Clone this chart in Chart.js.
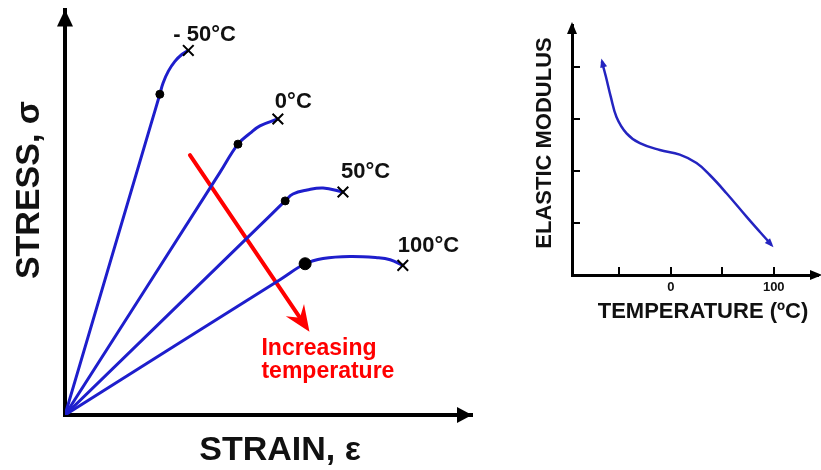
<!DOCTYPE html>
<html>
<head>
<meta charset="utf-8">
<script src="https://cdn.jsdelivr.net/npm/chart.js@4.4.1/dist/chart.umd.min.js"></script>
<style>
  html, body { margin: 0; padding: 0; background: #fff; }
  #wrap { position: relative; width: 821px; height: 470px; overflow: hidden; }
  #stress { position: absolute; left: 0; top: 0; }
  #modulus { position: absolute; left: 500px; top: 0; }
</style>
</head>
<body>
<div id="wrap">
  <canvas id="stress" width="500" height="470"></canvas>
  <canvas id="modulus" width="321" height="470"></canvas>
</div>
<script>
// stress-strain curves (strain, stress in arbitrary units), one per temperature
const tempLabels = ['- 50°C', '0°C', '50°C', '100°C'];
const strainM50 = [0, 2.10, 2.33, 2.41, 2.54, 2.70, 2.87, 3.03];
const stressM50 = [0, 7.13, 7.91, 8.19, 8.48, 8.72, 8.89, 8.99];
const strain0 = [0, 3.80, 4.25, 4.55, 4.79, 5.23];
const stress0 = [0, 5.97, 6.68, 6.95, 7.13, 7.30];
const strain50 = [0, 4.90, 5.41, 5.60, 5.95, 6.34, 6.83];
const stress50 = [0, 4.78, 5.28, 5.45, 5.55, 5.60, 5.50];
const strain100 = [0, 5.30, 5.90, 6.34, 7.00, 7.67, 7.99, 8.30];
const stress100 = [0, 3.35, 3.73, 3.86, 3.91, 3.88, 3.83, 3.69];
const yieldIndex = [2, 2, 2, 2];

// "increasing temperature" arrow
const arrowStrain = [3.07, 5.80];
const arrowStress = [6.41, 2.36];

// elastic modulus vs temperature
const tempC = [-67.0, -63.1, -58.3, -52.7, -43.0, -30.1, -10.7, 8.7, 25.0, 37.9, 54.1, 73.5, 86.4, 97.8];
const modulus = [4.10, 3.81, 3.42, 3.03, 2.72, 2.53, 2.40, 2.31, 2.15, 1.92, 1.57, 1.12, 0.83, 0.58];
const tempTicks = [-50, 0, 50, 100];
const tempTickLabels = { 0: '0', 100: '100' };
const modulusTicks = [1, 2, 3, 4];

const FONT = 'Arial, "Liberation Sans", sans-serif';
const BLUE = '#1e1ecc';
const RED = '#ff0000';

function zip(xs, ys) { return xs.map((x, i) => ({ x: x, y: ys[i] })); }

function arrowHead(ctx, x, y, dx, dy, len, half, notch, color) {
  const m = Math.hypot(dx, dy);
  const ux = dx / m, uy = dy / m;
  const px = -uy, py = ux;
  ctx.save();
  ctx.fillStyle = color;
  ctx.beginPath();
  ctx.moveTo(x, y);
  ctx.lineTo(x - ux * len + px * half, y - uy * len + py * half);
  ctx.lineTo(x - ux * (len - notch), y - uy * (len - notch));
  ctx.lineTo(x - ux * len - px * half, y - uy * len - py * half);
  ctx.closePath();
  ctx.fill();
  ctx.restore();
}

// ---------- left: stress vs strain ----------
const curves = [
  zip(strainM50, stressM50),
  zip(strain0, stress0),
  zip(strain50, stress50),
  zip(strain100, stress100)
];
const labelOffsets = [[-15, -16], [-3, -17], [-2, -20], [-5, -19]];

const stressSets = curves.map((pts, k) => ({
  data: pts,
  showLine: true,
  borderColor: BLUE,
  borderWidth: 3,
  tension: 0.4,
  pointStyle: pts.map((p, i) => i === pts.length - 1 ? 'crossRot' : 'circle'),
  pointRadius: pts.map((p, i) => i === yieldIndex[k] ? (k === 3 ? 6 : 4) : (i === pts.length - 1 ? 7.5 : 0)),
  pointBackgroundColor: '#000',
  pointBorderColor: '#000',
  pointBorderWidth: pts.map((p, i) => i === pts.length - 1 ? 2 : 1)
}));
stressSets.push({
  data: zip(arrowStrain, arrowStress),
  showLine: true,
  borderColor: RED,
  borderWidth: 4,
  pointRadius: 0
});

const stressDecor = {
  id: 'stressDecor',
  afterDatasetsDraw(chart) {
    const ctx = chart.ctx;
    const a = chart.chartArea;
    const xs = chart.scales.x, ys = chart.scales.y;
    // axis arrows
    arrowHead(ctx, a.left, a.top, 0, -1, 17, 8, 0, '#000');
    arrowHead(ctx, a.right, a.bottom, 1, 0, 15, 8, 0, '#000');
    // red arrow head
    const x0 = xs.getPixelForValue(arrowStrain[0]), y0 = ys.getPixelForValue(arrowStress[0]);
    const x1 = xs.getPixelForValue(arrowStrain[1]), y1 = ys.getPixelForValue(arrowStress[1]);
    const dx = x1 - x0, dy = y1 - y0, m = Math.hypot(dx, dy);
    arrowHead(ctx, x1 + dx / m * 15, y1 + dy / m * 15, dx, dy, 26, 11, 9, RED);

    ctx.save();
    ctx.fillStyle = '#111';
    ctx.font = 'bold 22px ' + FONT;
    ctx.textBaseline = 'middle';
    ctx.textAlign = 'left';
    curves.forEach((pts, k) => {
      const e = pts[pts.length - 1];
      ctx.fillText(tempLabels[k], xs.getPixelForValue(e.x) + labelOffsets[k][0], ys.getPixelForValue(e.y) + labelOffsets[k][1]);
    });
    ctx.fillStyle = RED;
    ctx.font = 'bold 23px ' + FONT;
    const tx = x1 + dx / m * 15 - 48, ty = y1 + dy / m * 15;
    ctx.fillText('Increasing', tx, ty + 17);
    ctx.fillText('temperature', tx, ty + 40);

    ctx.fillStyle = '#111';
    ctx.font = 'bold 34px ' + FONT;
    ctx.textAlign = 'center';
    ctx.fillText('STRAIN, ε', 280, 451);
    ctx.translate(30, 190);
    ctx.rotate(-Math.PI / 2);
    ctx.fillText('STRESS, σ', 0, 0);
    ctx.restore();
  }
};

new Chart(document.getElementById('stress'), {
  type: 'scatter',
  data: { datasets: stressSets },
  options: {
    responsive: false,
    animation: false,
    layout: { padding: { top: 8, right: 28, left: 0, bottom: 0 } },
    plugins: { legend: { display: false }, tooltip: { enabled: false } },
    elements: { line: { borderCapStyle: 'round' } },
    scales: {
      x: {
        type: 'linear', min: 0, max: 10,
        ticks: { display: false },
        grid: { display: false },
        border: { display: true, color: '#000', width: 4 },
        afterFit: s => { s.height = 55; }
      },
      y: {
        type: 'linear', min: 0, max: 10,
        ticks: { display: false },
        grid: { display: false },
        border: { display: true, color: '#000', width: 4 },
        afterFit: s => { s.width = 65; }
      }
    }
  },
  plugins: [stressDecor]
});

// ---------- right: elastic modulus vs temperature ----------
const modulusDecor = {
  id: 'modulusDecor',
  afterDatasetsDraw(chart) {
    const ctx = chart.ctx;
    const a = chart.chartArea;
    const xs = chart.scales.x, ys = chart.scales.y;
    arrowHead(ctx, a.left, a.top - 3, 0, -1, 12, 5, 0, '#000');
    arrowHead(ctx, a.right + 4, a.bottom, 1, 0, 12, 5, 0, '#000');
    const n = tempC.length;
    const px = i => xs.getPixelForValue(tempC[i]);
    const py = i => ys.getPixelForValue(modulus[i]);
    arrowHead(ctx, px(0) - 0.5, py(0) - 3, px(0) - px(1), py(0) - py(1), 9, 3.5, 0, '#2424c0');
    arrowHead(ctx, px(n - 1) + 2, py(n - 1) + 2.5, px(n - 1) - px(n - 2), py(n - 1) - py(n - 2), 9, 3.5, 0, '#2424c0');

    ctx.save();
    ctx.fillStyle = '#111';
    ctx.textAlign = 'center';
    ctx.textBaseline = 'middle';
    ctx.font = 'bold 22px ' + FONT;
    ctx.fillText('TEMPERATURE (ºC)', 203, 312);
    ctx.translate(45, 143);
    ctx.rotate(-Math.PI / 2);
    ctx.font = 'bold 22px ' + FONT;
    ctx.fillText('ELASTIC MODULUS', 0, 0);
    ctx.restore();
  }
};

new Chart(document.getElementById('modulus'), {
  type: 'scatter',
  data: {
    datasets: [{
      data: zip(tempC, modulus),
      showLine: true,
      borderColor: '#2424c0',
      borderWidth: 2.5,
      tension: 0.4,
      pointRadius: 0
    }]
  },
  options: {
    responsive: false,
    animation: false,
    layout: { padding: { top: 25, right: 3, left: 0, bottom: 0 } },
    plugins: { legend: { display: false }, tooltip: { enabled: false } },
    scales: {
      x: {
        type: 'linear', min: -96, max: 143,
        afterBuildTicks: s => { s.ticks = tempTicks.map(v => ({ value: v })); },
        ticks: {
          color: '#111', font: { family: FONT, size: 13, weight: 'bold' }, padding: 13,
          callback: v => tempTickLabels[v] || ''
        },
        grid: { display: true, drawOnChartArea: false, color: '#000', lineWidth: 2, tickLength: -8 },
        border: { display: true, color: '#000', width: 3 },
        afterFit: s => { s.height = 195; }
      },
      y: {
        type: 'linear', min: 0, max: 4.8,
        afterBuildTicks: s => { s.ticks = modulusTicks.map(v => ({ value: v })); },
        ticks: { display: false },
        grid: { display: true, drawOnChartArea: false, color: '#000', lineWidth: 2, tickLength: -8 },
        border: { display: true, color: '#000', width: 3 },
        afterFit: s => { s.width = 72; }
      }
    }
  },
  plugins: [modulusDecor]
});
</script>
</body>
</html>
